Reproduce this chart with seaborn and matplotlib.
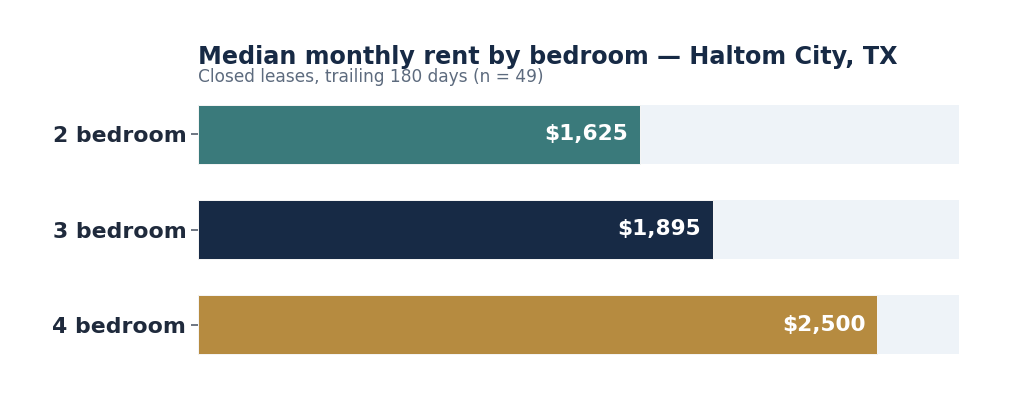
import matplotlib
matplotlib.use("Agg")
import matplotlib.pyplot as plt
import seaborn as sns
import pandas as pd

categories = ["2 bedroom", "3 bedroom", "4 bedroom"]
rents = [1625, 1895, 2500]
value_labels = ["$1,625", "$1,895", "$2,500"]
track_max = 2800
bar_colors = ["#3a7a7b", "#172a45", "#b68b40"]

sns.set_theme(style="white")
plt.rcParams["font.family"] = ["DejaVu Sans"]

df = pd.DataFrame({"bedroom": categories, "rent": rents,
                   "track": [track_max] * len(categories)})

DPI = 120
fig = plt.figure(figsize=(1024 / DPI, 408 / DPI), dpi=DPI)
ax = fig.add_axes([198 / 1024, 1 - 372.5 / 408, (959 - 198) / 1024, (372.5 - 86.5) / 408])

sns.barplot(data=df, y="bedroom", x="track", color="#eef3f8", width=0.62,
            ax=ax, orient="h", linewidth=0, saturation=1)
sns.barplot(data=df, y="bedroom", x="rent", hue="bedroom", palette=bar_colors,
            width=0.62, ax=ax, orient="h", legend=False, saturation=1,
            edgecolor="#f4f4f4", linewidth=0.6)

for i, (v, lab) in enumerate(zip(rents, value_labels)):
    ax.annotate(lab, xy=(v, i), xytext=(-7, 0), textcoords="offset points",
                ha="right", va="center", color="white", fontsize=13,
                fontweight="bold")

ax.set_xlim(0, track_max)
ax.set_ylim(2.5, -0.5)
ax.set_xlabel("")
ax.set_ylabel("")
ax.set_xticks([])
for s in ax.spines.values():
    s.set_visible(False)
ax.tick_params(axis="y", left=True, length=4, width=1, color="#555f6d",
               labelsize=13.2, labelcolor="#1f2a3c", pad=3)
for t in ax.get_yticklabels():
    t.set_fontweight("bold")

fig.text(198 / 1024, 1 - 57 / 408, "Median monthly rent by bedroom — Haltom City, TX",
         ha="left", va="center", fontsize=14.3, fontweight="bold", color="#172a45")
fig.text(198 / 1024, 1 - 77.5 / 408, "Closed leases, trailing 180 days (n = 49)",
         ha="left", va="center", fontsize=10.2, color="#5d6b7e")

fig.savefig("out.png", dpi=DPI, facecolor="white")
